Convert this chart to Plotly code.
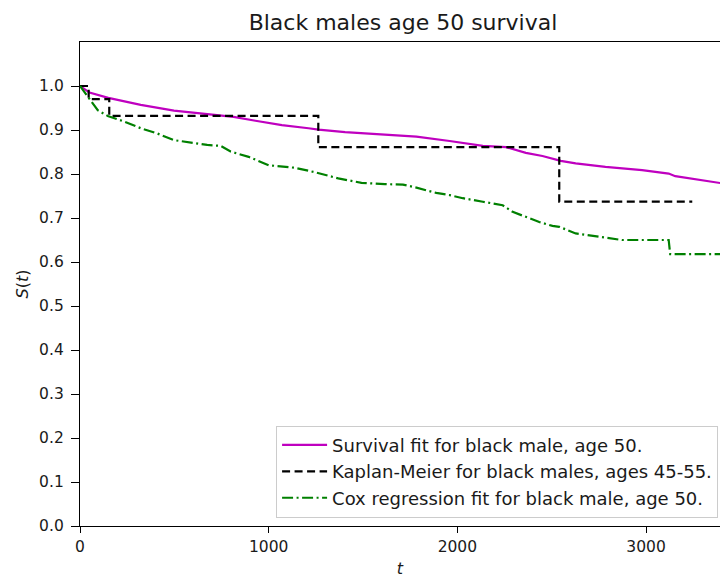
import plotly.graph_objects as go

# Parametric survival fit, black male aged 50
fit_t = [0, 50, 150, 322, 498, 672, 814, 930, 1070, 1211, 1264, 1405, 1610,
         1783, 1959, 2135, 2258, 2363, 2451, 2548, 2627, 2785, 2979, 3120,
         3155, 3400]
fit_s = [1.0, 0.985, 0.973, 0.957, 0.944, 0.936, 0.930, 0.921, 0.911, 0.904,
         0.901, 0.895, 0.890, 0.885, 0.875, 0.864, 0.861, 0.848, 0.841, 0.830,
         0.824, 0.816, 0.809, 0.801, 0.795, 0.779]

# Kaplan-Meier estimate, black males aged 45-55
km_t = [0, 46, 155, 1263, 2540, 3245]
km_s = [1.0, 0.970, 0.932, 0.861, 0.737, 0.737]

# Cox regression fit, black male aged 50
cox_t = [0, 50, 94, 147, 235, 322, 410, 498, 587, 674, 745, 798, 894, 1000,
         1141, 1246, 1369, 1492, 1616, 1712, 1783, 1888, 1959, 2029, 2135,
         2240, 2293, 2363, 2434, 2504, 2540, 2627, 2768, 2873, 3120, 3128, 3400]
cox_s = [1.0, 0.972, 0.945, 0.932, 0.919, 0.904, 0.892, 0.877, 0.871, 0.866,
         0.864, 0.851, 0.839, 0.820, 0.814, 0.804, 0.790, 0.780, 0.777, 0.776,
         0.769, 0.757, 0.752, 0.745, 0.737, 0.729, 0.714, 0.703, 0.691, 0.682,
         0.680, 0.665, 0.656, 0.650, 0.650, 0.618, 0.618]

y_ticks = [i / 10 for i in range(11)]
x_ticks = [0, 1000, 2000, 3000]

FONT = "DejaVu Sans"
TEXT = "#1a1a1a"

fig = go.Figure()
fig.add_trace(go.Scatter(
    x=fit_t, y=fit_s, mode="lines",
    line=dict(color="#bf00bf", width=2.2),
    name="Survival fit for black male, age 50."))
fig.add_trace(go.Scatter(
    x=km_t, y=km_s, mode="lines", line_shape="hv",
    line=dict(color="black", width=2.2, dash="8px,4.5px"),
    name="Kaplan-Meier for black males, ages 45-55."))
fig.add_trace(go.Scatter(
    x=cox_t, y=cox_s, mode="lines",
    line=dict(color="#008000", width=2.2, dash="11px,3.5px,2px,3.5px"),
    name="Cox regression fit for black male, age 50."))

axis_common = dict(
    showline=True, linecolor="black", linewidth=1.3, mirror=True,
    showgrid=False, zeroline=False,
    ticks="outside", tickwidth=1.3, tickcolor="black",
    tickfont=dict(family=FONT, size=15.5, color=TEXT),
)

fig.update_layout(
    width=720, height=578,
    margin=dict(l=80, r=0, t=42, b=52),
    paper_bgcolor="white", plot_bgcolor="white",
    font=dict(family=FONT, size=15.5, color=TEXT),
    title=dict(text="Black males age 50 survival",
               x=403 / 720, xanchor="center", xref="container",
               y=1 - 22 / 578, yanchor="middle", yref="container",
               font=dict(family=FONT, size=22, color=TEXT)),
    xaxis=dict(range=[0, 3392], tickvals=x_ticks, ticklen=6,
               title=dict(text="<i>t</i>", standoff=9,
                          font=dict(family=FONT, size=16)),
               **axis_common),
    yaxis=dict(range=[0, 1.1], tickvals=y_ticks, ticklen=8,
               ticklabelstandoff=4,
               ticktext=[f"{v:.1f}" for v in y_ticks],
               title=dict(text="<i>S</i>(<i>t</i>)", standoff=6,
                          font=dict(family=FONT, size=16)),
               **axis_common),
    legend=dict(x=0.997, y=0.017, xanchor="right", yanchor="bottom",
                bgcolor="rgba(255,255,255,0.8)", bordercolor="#cccccc",
                borderwidth=1, font=dict(family=FONT, size=18, color=TEXT),
                tracegroupgap=2, itemwidth=45),
    showlegend=True,
)

fig.write_html("out.html")
